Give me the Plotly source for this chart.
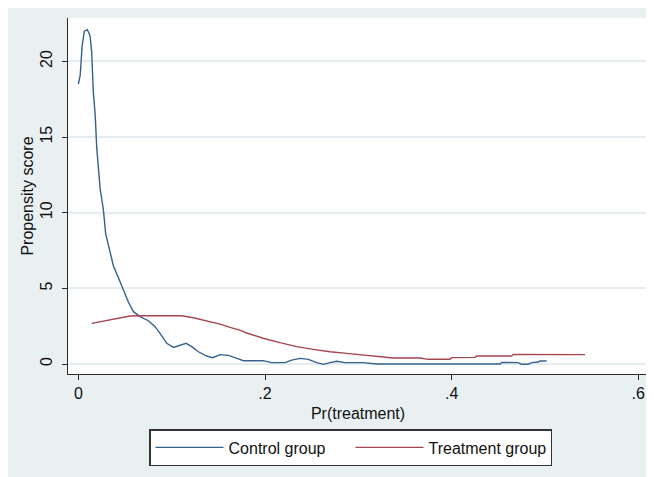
import plotly.graph_objects as go

# ---- data ----
ctrl_x = [0.000, 0.002, 0.004, 0.0064, 0.0096, 0.0125, 0.0143, 0.016, 0.018, 0.0197,
          0.0233, 0.0268, 0.0293, 0.034, 0.0375, 0.0429, 0.0482, 0.0536, 0.059, 0.0661,
          0.075, 0.0822, 0.0875, 0.0947, 0.1018, 0.109, 0.1154, 0.1215, 0.1286, 0.1375,
          0.144, 0.1518, 0.1607, 0.1730, 0.1768, 0.198, 0.207, 0.2214, 0.2286, 0.2375,
          0.2464, 0.2554, 0.2625, 0.2696, 0.2768, 0.2857, 0.3054, 0.3196, 0.377, 0.452,
          0.4536, 0.4714, 0.475, 0.482, 0.4857, 0.4929, 0.4946, 0.5018]
ctrl_y = [18.5, 19.1, 21.0, 22.0, 22.1, 21.7, 20.6, 18.0, 16.5, 14.3,
          11.6, 10.2, 8.6, 7.5, 6.5, 5.7, 4.9, 4.1, 3.46, 3.13,
          2.86, 2.47, 2.03, 1.37, 1.1, 1.23, 1.37, 1.15, 0.81, 0.53,
          0.42, 0.62, 0.57, 0.31, 0.22, 0.22, 0.09, 0.09, 0.26, 0.37,
          0.31, 0.09, -0.02, 0.09, 0.18, 0.09, 0.09, 0.0, 0.0, 0.0,
          0.11, 0.09, -0.02, -0.02, 0.09, 0.13, 0.2, 0.2]

trt_x = [0.0143, 0.0268, 0.0375, 0.0482, 0.0554, 0.066, 0.0875, 0.1107, 0.1232, 0.1375,
         0.1518, 0.1625, 0.173, 0.1804, 0.198, 0.216, 0.234, 0.2518, 0.2696, 0.2875,
         0.3054, 0.3232, 0.3375, 0.3661, 0.375, 0.3982, 0.400, 0.425, 0.427, 0.4643,
         0.4661, 0.5429]
trt_y = [2.69, 2.84, 2.97, 3.08, 3.17, 3.19, 3.19, 3.19, 3.06, 2.86,
         2.64, 2.42, 2.24, 2.05, 1.7, 1.41, 1.15, 0.97, 0.81, 0.7,
         0.59, 0.48, 0.4, 0.4, 0.31, 0.31, 0.42, 0.44, 0.53, 0.53,
         0.64, 0.62]

series_names = ["Control group", "Treatment group"]
x_ticks = [0, 0.2, 0.4, 0.6]
x_tick_labels = ["0", ".2", ".4", ".6"]
y_ticks = [0, 5, 10, 15, 20]
y_tick_labels = ["0", "5", "10", "15", "20"]
x_title = "Pr(treatment)"
y_title = "Propensity score"

# ---- styling ----
FONT = "Arial, 'Liberation Sans', sans-serif"
BG = "#e8f0f2"
GRID = "#e4eef0"
AXIS = "#2a2a2a"

fig = go.Figure()
fig.add_trace(go.Scatter(x=ctrl_x, y=ctrl_y, mode="lines", name=series_names[0],
                         line=dict(color="#34618e", width=1.4)))
fig.add_trace(go.Scatter(x=trt_x, y=trt_y, mode="lines", name=series_names[1],
                         line=dict(color="#a8444c", width=1.4)))

fig.update_layout(
    width=646, height=469,
    margin=dict(l=60, r=6, t=10, b=103, pad=0, autoexpand=False),
    paper_bgcolor=BG, plot_bgcolor="white",
    font=dict(family=FONT, size=16, color="#111111"),
    showlegend=True,
    legend=dict(orientation="h", x=0.1397, xanchor="left", y=-0.1545, yanchor="top",
                bgcolor="white", bordercolor="#333333", borderwidth=1.5,
                font=dict(family=FONT, size=16, color="#111111"),
                itemwidth=68, entrywidth=117, entrywidthmode="pixels",
                traceorder="normal"),
)

fig.update_xaxes(
    range=[-0.0111, 0.6104], tickvals=x_ticks, ticktext=x_tick_labels,
    showgrid=False, zeroline=False, automargin=False,
    showline=True, linecolor=AXIS, linewidth=1.4,
    ticks="outside", ticklen=5, tickwidth=1.4, tickcolor=AXIS,
    tickfont=dict(family=FONT, size=16, color="#111111"),
    title=dict(text=x_title, standoff=6, font=dict(family=FONT, size=16, color="#111111")),
)
fig.update_yaxes(
    range=[-0.66, 22.87], tickvals=y_ticks, ticktext=y_tick_labels, tickangle=-90,
    showgrid=True, gridcolor=GRID, gridwidth=1.5, zeroline=False, automargin=False,
    showline=True, linecolor=AXIS, linewidth=1.4,
    ticks="outside", ticklen=5, tickwidth=1.4, tickcolor=AXIS,
    ticklabelstandoff=3,
    tickfont=dict(family=FONT, size=16, color="#111111"),
    title=dict(text=y_title, standoff=0, font=dict(family=FONT, size=16, color="#111111")),
)

fig.write_html("out.html")
